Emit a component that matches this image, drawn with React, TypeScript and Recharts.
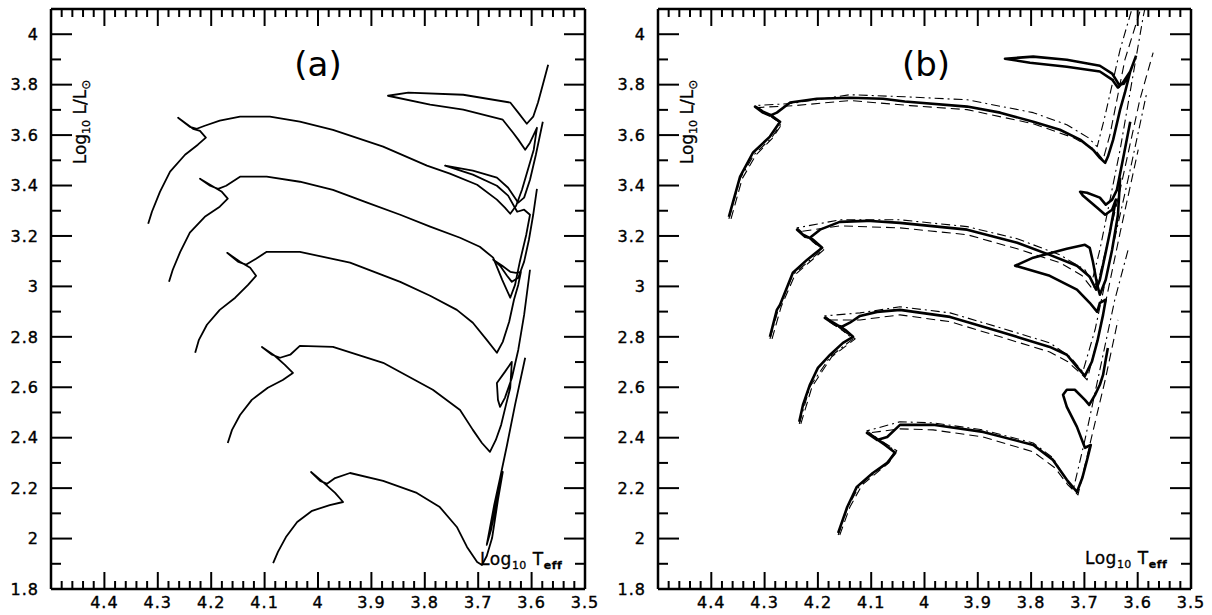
import React from "react";
import { ComposedChart, Line, XAxis, YAxis } from "recharts";

type Pt = [number, number]; // [log Teff, log L/Lsun]

// ---- panel (a): evolutionary tracks ----
const A1: Pt[] = [
  [4.318, 3.248], [4.311, 3.296], [4.296, 3.375], [4.277, 3.455], [4.249, 3.522], [4.225, 3.562],
  [4.21, 3.59], [4.221, 3.617], [4.234, 3.625], [4.262, 3.669], [4.24, 3.633], [4.227, 3.625],
  [4.212, 3.637], [4.184, 3.657], [4.146, 3.673], [4.09, 3.673], [4.034, 3.653], [3.972, 3.621],
  [3.878, 3.554], [3.796, 3.479], [3.753, 3.447], [3.702, 3.403], [3.665, 3.344], [3.65, 3.312],
  [3.64, 3.288], [3.629, 3.32], [3.618, 3.383], [3.607, 3.463], [3.596, 3.542], [3.59, 3.629],
  [3.603, 3.57], [3.612, 3.542], [3.625, 3.582], [3.635, 3.61], [3.654, 3.661], [3.728, 3.701],
  [3.79, 3.721], [3.869, 3.756], [3.831, 3.768], [3.728, 3.76], [3.64, 3.729], [3.625, 3.689],
  [3.609, 3.645], [3.597, 3.673], [3.588, 3.729], [3.579, 3.8], [3.569, 3.879],
];
const A2: Pt[] = [
  [4.279, 3.018], [4.272, 3.066], [4.258, 3.137], [4.24, 3.213], [4.212, 3.276], [4.184, 3.316],
  [4.169, 3.348], [4.18, 3.375], [4.199, 3.399], [4.221, 3.427], [4.202, 3.399], [4.187, 3.387],
  [4.172, 3.399], [4.146, 3.435], [4.096, 3.435], [4.034, 3.415], [3.972, 3.383], [3.908, 3.332],
  [3.846, 3.284], [3.79, 3.237], [3.734, 3.193], [3.697, 3.157], [3.672, 3.114], [3.655, 3.026],
  [3.64, 2.955], [3.631, 3.006], [3.622, 3.098], [3.61, 3.205], [3.603, 3.284], [3.614, 3.304],
  [3.627, 3.296], [3.644, 3.36], [3.665, 3.399], [3.71, 3.443], [3.762, 3.479], [3.71, 3.459],
  [3.665, 3.431], [3.644, 3.391], [3.625, 3.332], [3.614, 3.352], [3.603, 3.423], [3.592, 3.522],
  [3.579, 3.653],
];
const A3: Pt[] = [
  [4.23, 2.737], [4.223, 2.788], [4.208, 2.848], [4.184, 2.907], [4.155, 2.955], [4.131, 3.006],
  [4.116, 3.042], [4.127, 3.074], [4.146, 3.098], [4.17, 3.133], [4.15, 3.098], [4.135, 3.086],
  [4.116, 3.11], [4.096, 3.137], [4.034, 3.137], [3.94, 3.094], [3.846, 3.018], [3.79, 2.963],
  [3.74, 2.907], [3.71, 2.856], [3.684, 2.788], [3.665, 2.737], [3.654, 2.78], [3.642, 2.86],
  [3.633, 2.947], [3.625, 3.006], [3.62, 3.058], [3.629, 3.054], [3.64, 3.058], [3.655, 3.082],
  [3.672, 3.106], [3.659, 3.082], [3.646, 3.042], [3.637, 3.018], [3.625, 3.034], [3.614, 3.098],
  [3.605, 3.185], [3.597, 3.284], [3.59, 3.387],
];
const A4: Pt[] = [
  [4.169, 2.379], [4.161, 2.431], [4.146, 2.49], [4.124, 2.55], [4.094, 2.598], [4.066, 2.629],
  [4.047, 2.657], [4.062, 2.689], [4.081, 2.725], [4.105, 2.76], [4.086, 2.729], [4.071, 2.717],
  [4.052, 2.729], [4.034, 2.764], [3.972, 2.76], [3.878, 2.697], [3.785, 2.59], [3.734, 2.51],
  [3.71, 2.431], [3.693, 2.379], [3.678, 2.344], [3.667, 2.391], [3.657, 2.451], [3.648, 2.53],
  [3.64, 2.598], [3.637, 2.701], [3.65, 2.661], [3.665, 2.617], [3.663, 2.55], [3.659, 2.522],
  [3.65, 2.558], [3.637, 2.637], [3.625, 2.748], [3.614, 2.887], [3.603, 3.066],
];
const A5: Pt[] = [
  [4.084, 1.903], [4.075, 1.947], [4.06, 2.006], [4.039, 2.066], [4.011, 2.11], [3.978, 2.133],
  [3.953, 2.145], [3.968, 2.181], [3.991, 2.225], [4.013, 2.264], [3.996, 2.229], [3.983, 2.217],
  [3.968, 2.24], [3.94, 2.26], [3.878, 2.229], [3.815, 2.181], [3.772, 2.125], [3.74, 2.046],
  [3.721, 1.967], [3.702, 1.907], [3.693, 1.895], [3.684, 1.931], [3.674, 2.002], [3.663, 2.153],
  [3.654, 2.264], [3.665, 2.153], [3.676, 2.034], [3.684, 1.975], [3.67, 2.133], [3.659, 2.24],
  [3.646, 2.371], [3.631, 2.53], [3.612, 2.717],
];

// ---- panel (b): solid tracks ----
const B1: Pt[] = [
  [4.367, 3.276], [4.346, 3.435], [4.322, 3.53], [4.29, 3.594], [4.271, 3.653], [4.29, 3.681],
  [4.303, 3.693], [4.318, 3.713], [4.303, 3.689], [4.29, 3.677], [4.277, 3.689], [4.252, 3.729],
  [4.202, 3.744], [4.14, 3.748], [4.078, 3.744], [4.037, 3.733], [3.92, 3.713], [3.858, 3.689],
  [3.796, 3.653], [3.746, 3.621], [3.708, 3.582], [3.684, 3.542], [3.671, 3.51], [3.661, 3.49],
  [3.656, 3.514], [3.646, 3.582], [3.633, 3.701], [3.624, 3.768], [3.614, 3.852], [3.628, 3.808],
  [3.637, 3.788], [3.648, 3.82], [3.671, 3.852], [3.733, 3.871], [3.802, 3.887], [3.849, 3.903],
  [3.796, 3.911], [3.733, 3.899], [3.671, 3.875], [3.648, 3.844], [3.635, 3.8], [3.626, 3.804],
  [3.614, 3.852], [3.603, 3.915],
];
const B2: Pt[] = [
  [4.29, 2.8], [4.277, 2.907], [4.271, 2.927], [4.247, 3.054], [4.22, 3.106], [4.192, 3.153],
  [4.209, 3.185], [4.228, 3.205], [4.239, 3.225], [4.224, 3.197], [4.215, 3.193], [4.196, 3.225],
  [4.159, 3.256], [4.108, 3.26], [4.046, 3.252], [3.92, 3.225], [3.826, 3.173], [3.765, 3.125],
  [3.714, 3.082], [3.69, 3.038], [3.678, 2.987], [3.671, 3.026], [3.661, 3.125], [3.652, 3.217],
  [3.641, 3.344], [3.648, 3.304], [3.661, 3.284], [3.676, 3.312], [3.703, 3.36], [3.708, 3.375],
  [3.695, 3.371], [3.671, 3.352], [3.66, 3.324], [3.648, 3.344], [3.639, 3.383], [3.626, 3.522],
  [3.614, 3.653],
];
const B3: Pt[] = [
  [4.235, 2.463], [4.228, 2.53], [4.215, 2.61], [4.2, 2.677], [4.177, 2.729], [4.153, 2.776],
  [4.134, 2.8], [4.149, 2.828], [4.168, 2.852], [4.187, 2.875], [4.168, 2.848], [4.155, 2.84],
  [4.14, 2.856], [4.121, 2.883], [4.089, 2.899], [4.046, 2.907], [3.952, 2.879], [3.858, 2.82],
  [3.765, 2.76], [3.733, 2.729], [3.714, 2.681], [3.699, 2.645], [3.686, 2.701], [3.675, 2.788],
  [3.665, 2.887], [3.66, 2.947], [3.671, 2.935], [3.676, 2.899], [3.69, 2.935], [3.714, 2.987],
  [3.765, 3.042], [3.83, 3.082], [3.796, 3.114], [3.733, 3.149], [3.699, 3.165], [3.69, 3.153],
  [3.684, 3.098], [3.676, 3.006], [3.671, 2.967], [3.66, 3.026], [3.648, 3.145], [3.637, 3.284],
  [3.633, 3.431],
];
const B4: Pt[] = [
  [4.162, 2.022], [4.145, 2.125], [4.127, 2.205], [4.097, 2.26], [4.07, 2.3], [4.055, 2.34],
  [4.074, 2.371], [4.093, 2.399], [4.108, 2.419], [4.089, 2.391], [4.07, 2.403], [4.046, 2.451],
  [3.984, 2.451], [3.89, 2.423], [3.796, 2.371], [3.759, 2.312], [3.733, 2.233], [3.714, 2.185],
  [3.704, 2.24], [3.695, 2.312], [3.688, 2.371], [3.699, 2.36], [3.714, 2.443], [3.733, 2.522],
  [3.74, 2.57], [3.733, 2.59], [3.718, 2.59], [3.699, 2.55], [3.691, 2.53], [3.68, 2.57],
  [3.671, 2.61], [3.665, 2.649], [3.66, 2.709], [3.656, 2.756],
];

// ---- panel (b): comparison tracks (dash-dot and dashed) ----
const B1_DOTDASH: Pt[] = [
  [4.367, 3.268], [4.346, 3.427], [4.32, 3.522], [4.288, 3.586], [4.269, 3.645], [4.318, 3.717],
  [4.252, 3.725], [4.14, 3.76], [4.037, 3.752], [3.92, 3.74], [3.796, 3.689], [3.733, 3.641],
  [3.693, 3.59], [3.676, 3.554], [3.663, 3.661], [3.633, 3.939], [3.603, 4.157],
];
const B1_DASH: Pt[] = [
  [4.363, 3.268], [4.342, 3.427], [4.316, 3.522], [4.286, 3.586], [4.267, 3.645], [4.316, 3.709],
  [4.243, 3.717], [4.14, 3.737], [4.027, 3.717], [3.92, 3.701], [3.796, 3.645], [3.721, 3.59],
  [3.68, 3.542], [3.665, 3.502], [3.652, 3.602], [3.624, 3.899], [3.586, 4.157],
];
const B2_DOTDASH: Pt[] = [
  [4.29, 2.792], [4.273, 2.919], [4.247, 3.046], [4.192, 3.145], [4.239, 3.232], [4.159, 3.264],
  [4.046, 3.264], [3.92, 3.237], [3.826, 3.189], [3.746, 3.125], [3.699, 3.066], [3.686, 3.018],
  [3.671, 3.145], [3.633, 3.542], [3.59, 4.066], [3.581, 4.157],
];
const B2_DASH: Pt[] = [
  [4.286, 2.792], [4.269, 2.919], [4.243, 3.046], [4.189, 3.145], [4.235, 3.217], [4.159, 3.24],
  [4.046, 3.232], [3.92, 3.205], [3.826, 3.149], [3.746, 3.094], [3.704, 3.042], [3.684, 2.987],
  [3.671, 3.046], [3.633, 3.383], [3.596, 3.74], [3.571, 3.927],
];
const B3_DOTDASH: Pt[] = [
  [4.235, 2.455], [4.215, 2.602], [4.177, 2.721], [4.134, 2.792], [4.187, 2.883], [4.121, 2.895],
  [4.046, 2.919], [3.952, 2.895], [3.858, 2.836], [3.765, 2.776], [3.727, 2.721], [3.703, 2.661],
  [3.68, 2.828], [3.652, 3.106], [3.614, 3.463], [3.583, 3.768],
];
const B3_DASH: Pt[] = [
  [4.232, 2.455], [4.211, 2.602], [4.174, 2.721], [4.13, 2.792], [4.183, 2.867], [4.121, 2.867],
  [4.046, 2.887], [3.952, 2.86], [3.858, 2.8], [3.765, 2.74], [3.731, 2.701], [3.704, 2.649],
  [3.695, 2.629], [3.671, 2.828], [3.633, 3.213], [3.599, 3.542],
];
const B4_DOTDASH: Pt[] = [
  [4.162, 2.014], [4.144, 2.125], [4.121, 2.213], [4.07, 2.3], [4.055, 2.348], [4.108, 2.427],
  [4.046, 2.463], [3.984, 2.459], [3.89, 2.431], [3.796, 2.379], [3.759, 2.32], [3.736, 2.24],
  [3.721, 2.193], [3.699, 2.391], [3.671, 2.669], [3.643, 2.947], [3.618, 3.145],
];
const B4_DASH: Pt[] = [
  [4.159, 2.014], [4.14, 2.125], [4.117, 2.213], [4.067, 2.3], [4.052, 2.348], [4.104, 2.419],
  [4.046, 2.435], [3.984, 2.431], [3.89, 2.403], [3.796, 2.344], [3.755, 2.28], [3.731, 2.213],
  [3.712, 2.173], [3.69, 2.371], [3.661, 2.629], [3.637, 2.867],
];

// axis ticks
const X_MAJOR = [3.5, 3.6, 3.7, 3.8, 3.9, 4.0, 4.1, 4.2, 4.3, 4.4, 4.5];
const X_LABELS = [3.5, 3.6, 3.7, 3.8, 3.9, 4.0, 4.1, 4.2, 4.3, 4.4];
const Y_MAJOR = [1.8, 2.0, 2.2, 2.4, 2.6, 2.8, 3.0, 3.2, 3.4, 3.6, 3.8, 4.0];

const X_TICKS = X_MAJOR.flatMap((v, i) =>
  i === X_MAJOR.length - 1 ? [v] : [0, 1, 2, 3, 4].map((k) => +(v + k * 0.02).toFixed(2))
);
const Y_TICKS = Y_MAJOR.flatMap((v, i) =>
  i === Y_MAJOR.length - 1 ? [v] : [v, +(v + 0.1).toFixed(1)]
);

const FONT = "'DejaVu Sans', sans-serif";
const fmt = (v: number) => (Math.abs(v - Math.round(v)) < 1e-6 ? String(Math.round(v)) : v.toFixed(1));
const toData = (pts: Pt[]) => pts.map(([t, l]) => ({ t, l }));

interface Box { left: number; right: number; top: number; bottom: number }

const labelStyle = {
  fontFamily: FONT,
  fontSize: 16,
  letterSpacing: 1,
  fill: "#000",
  stroke: "#000",
  strokeWidth: 0.4,
};

const makeXTick = (b: Box) => (props: any) => {
  const { x, payload } = props;
  const v = payload.value as number;
  const major = Math.abs(v * 10 - Math.round(v * 10)) < 1e-6;
  const len = major ? 17 : 8;
  const labelled = major && X_LABELS.some((l) => Math.abs(l - v) < 1e-6);
  return (
    <g>
      <line x1={x} x2={x} y1={b.bottom} y2={b.bottom - len} stroke="#000" strokeWidth={2} />
      <line x1={x} x2={x} y1={b.top} y2={b.top + len} stroke="#000" strokeWidth={2} />
      {labelled && (
        <text x={x} y={b.bottom + 19} textAnchor="middle" {...labelStyle}>
          {fmt(v)}
        </text>
      )}
    </g>
  );
};

const makeYTick = (b: Box) => (props: any) => {
  const { y, payload } = props;
  const v = payload.value as number;
  const major = Math.round(v * 10) % 2 === 0;
  const len = major ? 21 : 10;
  return (
    <g>
      <line x1={b.left} x2={b.left + len} y1={y} y2={y} stroke="#000" strokeWidth={2} />
      <line x1={b.right} x2={b.right - len} y1={y} y2={y} stroke="#000" strokeWidth={2} />
      {major && (
        <text x={b.left - 12} y={y} dy="0.36em" textAnchor="end" {...labelStyle}>
          {fmt(v)}
        </text>
      )}
    </g>
  );
};

interface Track { pts: Pt[]; width: number; dash?: string }

function Panel({ left, width, box, tracks }: { left: number; width: number; box: Box; tracks: Track[] }) {
  const axisLine = { stroke: "#000", strokeWidth: 2.5 };
  // each axis takes 1px outside the plot box
  return (
    <div style={{ position: "absolute", left, top: 0 }}>
      <ComposedChart
        width={width}
        height={615}
        margin={{ top: box.top - 1, bottom: 615 - box.bottom - 1, left: box.left - 1, right: width - box.right - 1 }}
      >
        <XAxis xAxisId="b" type="number" dataKey="t" domain={[3.5, 4.5]} reversed allowDataOverflow
          ticks={X_TICKS} interval={0} tick={makeXTick(box)} tickLine={false} axisLine={axisLine} height={1} />
        <XAxis xAxisId="t" orientation="top" type="number" dataKey="t" domain={[3.5, 4.5]} reversed
          allowDataOverflow tick={false} tickLine={false} axisLine={axisLine} height={1} />
        <YAxis yAxisId="l" type="number" dataKey="l" domain={[1.8, 4.1]} allowDataOverflow
          ticks={Y_TICKS} interval={0} tick={makeYTick(box)} tickLine={false} axisLine={axisLine} width={1} />
        <YAxis yAxisId="r" orientation="right" type="number" dataKey="l" domain={[1.8, 4.1]}
          allowDataOverflow tick={false} tickLine={false} axisLine={axisLine} width={1} />
        {tracks.map((tr, i) => (
          <Line
            key={i}
            xAxisId="b"
            yAxisId="l"
            data={toData(tr.pts)}
            dataKey="l"
            type="linear"
            stroke="#000"
            strokeWidth={tr.width}
            strokeDasharray={tr.dash}
            strokeLinejoin="round"
            dot={false}
            activeDot={false}
            isAnimationActive={false}
          />
        ))}
      </ComposedChart>
    </div>
  );
}

const DASH = "9 5";
const DOTDASH = "9 4 2 4";

const PANEL_A: Track[] = [A1, A2, A3, A4, A5].map((pts) => ({ pts, width: 1.8 }));
const PANEL_B: Track[] = [
  ...[B1_DOTDASH, B2_DOTDASH, B3_DOTDASH, B4_DOTDASH].map((pts) => ({ pts, width: 1.1, dash: DOTDASH })),
  ...[B1_DASH, B2_DASH, B3_DASH, B4_DASH].map((pts) => ({ pts, width: 1.1, dash: DASH })),
  ...[B1, B2, B3, B4].map((pts) => ({ pts, width: 2.6 })),
];

function YTitle({ x, y }: { x: number; y: number }) {
  return (
    <text transform={`translate(${x},${y}) rotate(-90)`} textAnchor="middle" fontFamily={FONT}
      fontSize={17} fill="#000" stroke="#000" strokeWidth={0.3}>
      Log
      <tspan fontSize={11} dy={4}>10</tspan>
      <tspan dy={-4}> L/L</tspan>
      <tspan fontSize={12} dy={4}>⊙</tspan>
    </text>
  );
}

function XTitle({ x, y }: { x: number; y: number }) {
  return (
    <text x={x} y={y} fontFamily={FONT} fontSize={17} letterSpacing={0.5} fill="#000" stroke="#000"
      strokeWidth={0.3}>
      Log
      <tspan fontSize={11} dy={4}>10</tspan>
      <tspan dy={-4}> T</tspan>
      <tspan fontSize={11} dy={4} fontWeight="bold">eff</tspan>
    </text>
  );
}

export default function App() {
  return (
    <div style={{ position: "absolute", left: 0, top: 0, width: 1212, height: 615, background: "#fff" }}>
      <Panel left={0} width={600} box={{ left: 51, right: 585, top: 9, bottom: 589 }} tracks={PANEL_A} />
      <Panel left={600} width={612} box={{ left: 58, right: 591, top: 9, bottom: 589 }} tracks={PANEL_B} />
      <svg width={1212} height={615} style={{ position: "absolute", left: 0, top: 0, pointerEvents: "none" }}>
        <text x={318} y={76} textAnchor="middle" fontFamily={FONT} fontSize={34} fill="#000">(a)</text>
        <text x={926} y={76} textAnchor="middle" fontFamily={FONT} fontSize={34} fill="#000">(b)</text>
        <YTitle x={86} y={122} />
        <YTitle x={693} y={122} />
        <XTitle x={480} y={565} />
        <XTitle x={1085} y={564} />
      </svg>
    </div>
  );
}
